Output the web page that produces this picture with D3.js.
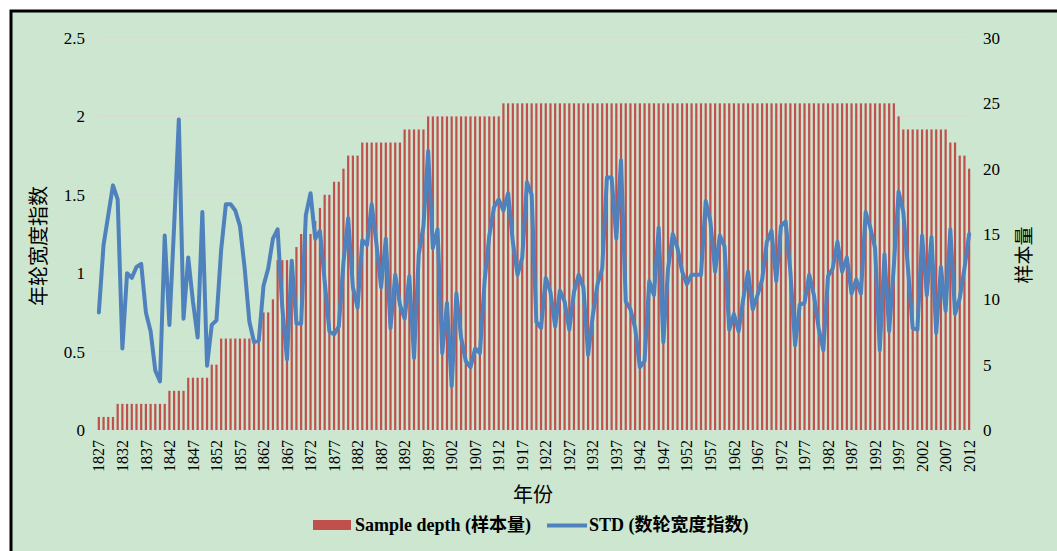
<!DOCTYPE html>
<html>
<head>
<meta charset="utf-8">
<script src="https://cdn.jsdelivr.net/npm/d3@7"></script>
<style>
    html, body { margin: 0; padding: 0; background: #fff; }
    svg { display: block; }
    text { font-family: "Liberation Serif", "Times New Roman", "Noto Sans CJK SC", serif; fill: #000; }
</style>
</head>
<body>
<div id="chart"></div>
<script>
// DATA

// Years on the category axis
const years = d3.range(1827, 2013);

// Sample depth (right axis), one value per year from 1827
const sampleDepth = [
    1, 1, 1, 1, 2, 2, 2, 2, 2, 2,
    2, 2, 2, 2, 2, 3, 3, 3, 3, 4,
    4, 4, 4, 4, 5, 5, 7, 7, 7, 7,
    7, 7, 7, 7, 7, 9, 9, 10, 13, 13,
    13, 13, 14, 15, 15, 15, 16, 17, 18, 18,
    19, 19, 20, 21, 21, 21, 22, 22, 22, 22,
    22, 22, 22, 22, 22, 23, 23, 23, 23, 23,
    24, 24, 24, 24, 24, 24, 24, 24, 24, 24,
    24, 24, 24, 24, 24, 24, 25, 25, 25, 25,
    25, 25, 25, 25, 25, 25, 25, 25, 25, 25,
    25, 25, 25, 25, 25, 25, 25, 25, 25, 25,
    25, 25, 25, 25, 25, 25, 25, 25, 25, 25,
    25, 25, 25, 25, 25, 25, 25, 25, 25, 25,
    25, 25, 25, 25, 25, 25, 25, 25, 25, 25,
    25, 25, 25, 25, 25, 25, 25, 25, 25, 25,
    25, 25, 25, 25, 25, 25, 25, 25, 25, 25,
    25, 25, 25, 25, 25, 25, 25, 25, 25, 25,
    24, 23, 23, 23, 23, 23, 23, 23, 23, 23,
    23, 22, 22, 21, 21, 20
];

// STD ring width index (left axis), one value per year from 1827
const stdIndex = [
    0.75, 1.18, 1.37, 1.56, 1.47, 0.52, 1.00, 0.97, 1.04, 1.06,
    0.75, 0.63, 0.38, 0.31, 1.24, 0.67, 1.30, 1.98, 0.71, 1.10,
    0.82, 0.59, 1.39, 0.41, 0.67, 0.70, 1.15, 1.44, 1.44, 1.40,
    1.30, 1.03, 0.69, 0.56, 0.57, 0.92, 1.03, 1.22, 1.28, 0.78,
    0.45, 1.08, 0.68, 0.68, 1.37, 1.51, 1.22, 1.27, 0.95, 0.63,
    0.61, 0.66, 1.07, 1.35, 0.91, 0.78, 1.21, 1.18, 1.44, 1.19,
    0.91, 1.22, 0.65, 0.99, 0.80, 0.71, 0.98, 0.46, 1.12, 1.30,
    1.78, 1.16, 1.28, 0.49, 0.81, 0.28, 0.87, 0.59, 0.44, 0.40,
    0.52, 0.49, 0.95, 1.24, 1.42, 1.47, 1.40, 1.51, 1.20, 0.99,
    1.10, 1.58, 1.50, 0.69, 0.65, 0.97, 0.88, 0.66, 0.89, 0.82,
    0.64, 0.88, 0.99, 0.91, 0.48, 0.73, 0.93, 1.03, 1.61, 1.61,
    1.22, 1.72, 0.82, 0.77, 0.65, 0.40, 0.44, 0.95, 0.86, 1.29,
    0.56, 1.03, 1.25, 1.16, 1.01, 0.93, 0.99, 0.99, 0.99, 1.46,
    1.33, 1.01, 1.24, 1.17, 0.64, 0.74, 0.63, 0.84, 1.01, 0.77,
    0.86, 0.96, 1.20, 1.27, 0.95, 1.30, 1.33, 1.01, 0.54, 0.80,
    0.81, 0.99, 0.86, 0.65, 0.51, 0.98, 1.03, 1.20, 1.01, 1.10,
    0.87, 0.96, 0.87, 1.39, 1.29, 1.16, 0.51, 1.12, 0.63, 1.05,
    1.52, 1.39, 1.03, 0.65, 0.64, 1.24, 0.86, 1.23, 0.62, 1.04,
    0.76, 1.28, 0.74, 0.84, 1.03, 1.25
];

// Tick labels
const leftTicks = [0, 0.5, 1, 1.5, 2, 2.5];
const rightTicks = [0, 5, 10, 15, 20, 25, 30];
const xTickYears = years.filter(function(d, i) { return i % 5 === 0; });

// Text
const leftTitle = "年轮宽度指数";
const rightTitle = "样本量";
const xTitle = "年份";
const barLabel = "Sample depth (样本量)";
const lineLabel = "STD (数轮宽度指数)";


// SETTINGS

const WIDTH = 1057;
const HEIGHT = 551;
const PLOT = { left: 96.5, right: 971.5, top: 38, bottom: 430 };
const BG_COLOR = "#cde6d0";
const BAR_COLOR = "#c0504d";
const LINE_COLOR = "#4f81bd";
const GRID_COLOR = "#d7dbd6";


// Build svg
const svg = d3.select("#chart").append("svg")
    .attr("width", WIDTH)
    .attr("height", HEIGHT);

// Green panel with black frame on top and left
svg.append("rect")
    .attr("x", 11).attr("y", 11)
    .attr("width", WIDTH).attr("height", HEIGHT)
    .attr("fill", BG_COLOR);
svg.append("path")
    .attr("d", "M11," + HEIGHT + "V11H" + WIDTH)
    .attr("fill", "none")
    .attr("stroke", "#000")
    .attr("stroke-width", 3);

// Scales
const x = d3.scaleBand()
    .domain(years)
    .range([PLOT.left, PLOT.right])
    .paddingInner(0.53)
    .paddingOuter(0.265);

const yLeft = d3.scaleLinear().domain([0, 2.5]).range([PLOT.bottom, PLOT.top]);
const yRight = d3.scaleLinear().domain([0, 30]).range([PLOT.bottom, PLOT.top]);

// Gridlines
svg.append("g")
    .attr("class", "grid")
    .selectAll("line")
    .data(leftTicks)
    .enter().append("line")
        .attr("x1", PLOT.left)
        .attr("x2", PLOT.right)
        .attr("y1", function(d) { return yLeft(d); })
        .attr("y2", function(d) { return yLeft(d); })
        .attr("stroke", GRID_COLOR)
        .attr("stroke-width", 1);

// Bars (sample depth)
svg.append("g")
    .attr("class", "bars")
    .selectAll("rect")
    .data(years)
    .enter().append("rect")
        .attr("x", function(d) { return x(d); })
        .attr("width", x.bandwidth())
        .attr("y", function(d, i) { return yRight(sampleDepth[i]); })
        .attr("height", function(d, i) { return PLOT.bottom - yRight(sampleDepth[i]); })
        .attr("fill", BAR_COLOR);

// Line (STD)
const line = d3.line()
    .x(function(d) { return x(d) + x.bandwidth() / 2; })
    .y(function(d, i) { return yLeft(stdIndex[i]); });

svg.append("path")
    .datum(years)
    .attr("d", line)
    .attr("fill", "none")
    .attr("stroke", LINE_COLOR)
    .attr("stroke-width", 4)
    .attr("stroke-linejoin", "round")
    .attr("stroke-linecap", "round");

// Axes
const leftAxis = svg.append("g")
    .attr("transform", "translate(" + PLOT.left + ",0)")
    .call(d3.axisLeft(yLeft).tickValues(leftTicks).tickFormat(function(d) { return d; }).tickSize(0).tickPadding(11.5));

const rightAxis = svg.append("g")
    .attr("transform", "translate(" + PLOT.right + ",0)")
    .call(d3.axisRight(yRight).tickValues(rightTicks).tickSize(0).tickPadding(11.5));

const bottomAxis = svg.append("g")
    .attr("transform", "translate(0," + PLOT.bottom + ")")
    .call(d3.axisBottom(x).tickValues(xTickYears).tickSize(0));

[leftAxis, rightAxis, bottomAxis].forEach(function(g) {
    g.select(".domain").remove();
    g.selectAll("text")
        .attr("fill", "#000")
        .style("font-family", "'Liberation Serif', serif");
});
leftAxis.selectAll("text").style("font-size", "17px");
rightAxis.selectAll("text").style("font-size", "17px");

// Rotated year labels
bottomAxis.selectAll("text")
    .attr("transform", "rotate(-90)")
    .attr("x", -10)
    .attr("y", 0)
    .attr("dy", "0.35em")
    .style("text-anchor", "end")
    .style("font-size", "16px");

// Axis titles
svg.append("text")
    .attr("transform", "translate(39,246) rotate(-90)")
    .attr("text-anchor", "middle")
    .attr("dy", "0.35em")
    .style("font-size", "20px")
    .text(leftTitle);

svg.append("text")
    .attr("transform", "translate(1024,255) rotate(-90)")
    .attr("text-anchor", "middle")
    .attr("dy", "0.35em")
    .style("font-size", "19px")
    .text(rightTitle);

svg.append("text")
    .attr("x", 533)
    .attr("y", 495)
    .attr("text-anchor", "middle")
    .attr("dy", "0.35em")
    .style("font-size", "20px")
    .text(xTitle);

// Legend
const legend = svg.append("g").attr("class", "legend");

legend.append("rect")
    .attr("x", 313).attr("y", 520)
    .attr("width", 38).attr("height", 10)
    .attr("fill", BAR_COLOR);

legend.append("text")
    .attr("x", 355).attr("y", 531)
    .style("font-size", "18px")
    .style("font-weight", "bold")
    .text(barLabel);

legend.append("line")
    .attr("x1", 547).attr("x2", 587)
    .attr("y1", 525.5).attr("y2", 525.5)
    .attr("stroke", LINE_COLOR)
    .attr("stroke-width", 4);

legend.append("text")
    .attr("x", 589).attr("y", 531)
    .style("font-size", "18px")
    .style("font-weight", "bold")
    .text(lineLabel);
</script>
</body>
</html>
